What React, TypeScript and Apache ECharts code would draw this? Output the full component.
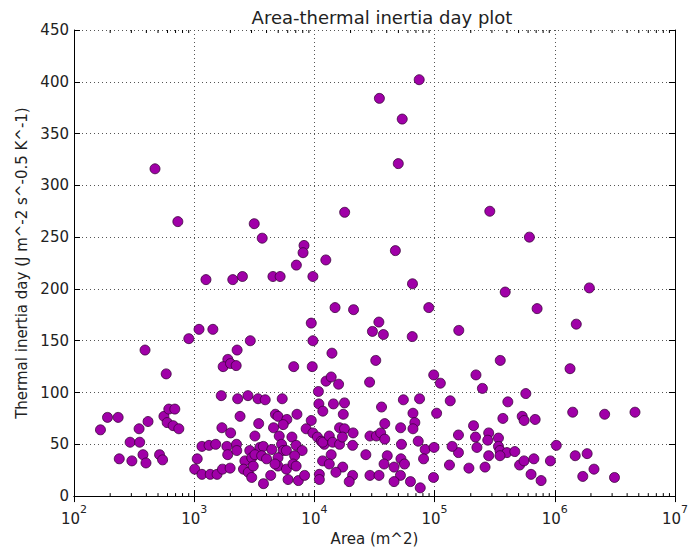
import React, { useEffect, useRef } from "react";
import * as echarts from "echarts";

const chartTitle = "Area-thermal inertia day plot";
const xAxisName = "Area (m^2)";
const yAxisName = "Thermal inertia day (J m^-2 s^-0.5 K^-1)";

const areaValues = [
  190, 233, 166, 413, 348, 560, 615, 690, 596, 668, 745, 293, 352, 238, 303, 375, 397, 515, 546, 390, 585, 902, 472, 731,
  3160, 3680, 8200, 8050, 7080, 1253, 2094, 2520, 4520, 5190, 9720, 9420, 9720, 9600, 6730, 1097, 1430, 2930, 2276, 1905,
  1742, 2005, 2235, 1680, 2300, 2800, 3400, 3900, 5400, 2408, 3440, 4740, 4980, 5900, 5500, 7160, 4570, 5100, 9420, 8540,
  1700, 2010, 3200, 6500, 1160, 1330, 1510, 1870, 2250, 2900, 3520, 3760, 4420, 5330, 5500, 5850, 7050, 7910, 6850, 1900,
  2260, 2640, 3010, 3200, 3640, 4000, 4980, 1060, 1010, 1160, 1360, 1550, 1720, 1990, 2570, 2820, 3100, 3010, 3770, 4330,
  4980, 4700, 5850, 6040, 6640, 7360, 8290, 7050, 9720, 10600, 11400, 12100, 11000, 11000,
  12450, 17860, 34750, 74500, 53800, 49900, 47200, 65500, 89500, 14860, 21180, 34400, 30400, 37500, 65200, 32400, 28800,
  14000, 12500, 13800, 15900, 10800, 10900, 11750, 14400, 17800, 17400, 36200, 55000, 75000, 66100, 68500, 66100, 73100,
  38500, 52200, 16200, 17800, 21000, 11750, 13300, 14200, 16200, 17100, 20800, 29000, 32800, 35600, 38500, 53000, 83500,
  99000, 26800, 40400, 38000, 52500, 56200, 46000, 81000, 13800, 11700, 13300, 17200, 15100, 20800, 19500, 29000, 34500,
  52000, 46000, 63000, 76000, 98000,
  288000, 615000, 159000, 387000, 713000, 352000, 98400, 111700, 221000, 250000, 574000, 407000, 135000, 104000, 370000,
  536000, 556000, 687000, 211000, 158000, 219000, 282000, 277000, 340000, 340000, 350000, 400000, 465000, 350000, 282000,
  225000, 158000, 140000, 133000, 193000, 263000, 510000, 555000, 670000, 635000, 770000, 920000,
  1030000, 1480000, 1860000, 2120000, 1710000, 3140000, 1410000, 2600000, 4650000, 1940000, 1510000, 1340000,
];

const inertiaValues = [
  76, 76, 64, 72, 65, 77, 84, 84, 71, 68, 65, 52, 52, 36, 34, 40, 32, 40, 35, 141, 118, 152, 316, 265,
  263, 249, 242, 235, 223, 209, 209, 212, 212, 212, 212, 167, 150, 125, 125, 161, 161, 150, 141, 132,
  125, 128, 126, 97, 94, 97, 94, 93, 94, 77, 70, 79, 77, 74, 69, 79, 66, 58, 73, 65,
  66, 61, 58, 57, 48, 49, 50, 48, 50, 44, 47, 48, 45, 50, 44, 44, 49, 44, 39, 40,
  44, 34, 37, 40, 39, 36, 37, 36, 26, 21, 21, 21, 26, 27, 26, 23, 29, 18, 12, 20,
  29, 31, 26, 16, 31, 15, 20, 29, 61, 57, 53, 50, 21, 16,
  228, 274, 384, 402, 364, 321, 237, 205, 182, 182, 180, 168, 159, 156, 154, 131, 110,
  138, 111, 115, 108, 101, 89, 82, 89, 90, 79, 86, 93, 94, 80, 71, 65, 53,
  70, 66, 66, 65, 61, 52, 58, 52, 50, 57, 49, 58, 58, 61, 55, 50, 45,
  47, 40, 39, 31, 36, 31, 28, 36, 40, 34, 31, 28, 23, 20, 14, 20, 20,
  20, 14, 14, 8, 18,
  275, 250, 160, 197, 181, 131, 117, 109, 117, 104, 99, 91, 92, 80, 75,
  77, 73, 74, 68, 59, 57, 61, 54, 56, 48, 44, 42, 43, 39, 39,
  47, 42, 48, 30, 27, 28, 30, 34, 36, 21, 15, 34,
  49, 39, 41, 26, 19, 18, 81, 79, 81, 201, 166, 123,
];

const minorTickValues = [
  200, 300, 400, 500, 600, 700, 800, 900,
  2000, 3000, 4000, 5000, 6000, 7000, 8000, 9000,
  20000, 30000, 40000, 50000, 60000, 70000, 80000, 90000,
  200000, 300000, 400000, 500000, 600000, 700000, 800000, 900000,
  2000000, 3000000, 4000000, 5000000, 6000000, 7000000, 8000000, 9000000,
];

const X_MIN = 100;
const X_MAX = 10000000;
const Y_MIN = 0;
const Y_MAX = 450;
const Y_INTERVAL = 50;

const FONT = "DejaVu Sans";
const TEXT_COLOR = "#222";

export default function App() {
  const ref = useRef<HTMLDivElement>(null);

  useEffect(() => {
    document.body.style.margin = "0";
    if (!ref.current) return;
    const chart = echarts.init(ref.current, undefined, { renderer: "svg" });

    const points = areaValues.map((a, i) => [a, inertiaValues[i]]);

    const gridLine = { show: true, lineStyle: { color: "#555", type: [1, 3] as any, width: 1 } };
    const frameLine = { show: true, lineStyle: { color: "#000", width: 1 } };
    const tick = { show: true, inside: true, length: 6, lineStyle: { color: "#000", width: 1 } };

    chart.setOption({
      animation: false,
      backgroundColor: "#fff",
      textStyle: { fontFamily: FONT },
      title: {
        text: chartTitle,
        left: 377,
        top: 3,
        textAlign: "center",
        textStyle: { fontFamily: FONT, fontSize: 18, fontWeight: "normal", color: TEXT_COLOR },
      },
      grid: { left: 74, right: 12, top: 30, bottom: 54 },
      xAxis: [
        {
          type: "log",
          logBase: 10,
          min: X_MIN,
          max: X_MAX,
          splitNumber: 5,
          position: "bottom",
          name: xAxisName,
          nameLocation: "middle",
          nameGap: 29,
          nameTextStyle: { fontFamily: FONT, fontSize: 15, color: TEXT_COLOR },
          axisLine: frameLine,
          axisTick: tick,
          splitLine: gridLine,
          axisLabel: {
            margin: 8,
            formatter: (v: number) => `{b|10}{s|${Math.round(Math.log10(v))}}`,
            rich: {
              b: { fontFamily: FONT, fontSize: 15, color: TEXT_COLOR, lineHeight: 22, verticalAlign: "bottom" },
              s: { fontFamily: FONT, fontSize: 11, color: TEXT_COLOR, lineHeight: 22, verticalAlign: "top" },
            },
          },
        },
        {
          type: "log",
          logBase: 10,
          min: X_MIN,
          max: X_MAX,
          splitNumber: 5,
          position: "top",
          axisLine: frameLine,
          axisTick: tick,
          splitLine: { show: false },
          axisLabel: { show: false },
        },
      ],
      yAxis: [
        {
          type: "value",
          min: Y_MIN,
          max: Y_MAX,
          interval: Y_INTERVAL,
          position: "left",
          name: yAxisName,
          nameLocation: "middle",
          nameGap: 42,
          nameTextStyle: { fontFamily: FONT, fontSize: 15, color: TEXT_COLOR },
          axisLine: frameLine,
          axisTick: tick,
          splitLine: gridLine,
          axisLabel: { fontFamily: FONT, fontSize: 15, color: TEXT_COLOR, margin: 5 },
        },
        {
          type: "value",
          min: Y_MIN,
          max: Y_MAX,
          interval: Y_INTERVAL,
          position: "right",
          axisLine: frameLine,
          axisTick: tick,
          splitLine: { show: false },
          axisLabel: { show: false },
        },
      ],
      series: [
        {
          type: "custom",
          xAxisIndex: 0,
          yAxisIndex: 0,
          silent: true,
          clip: false,
          z: 1,
          data: minorTickValues.map((v) => [v, Y_MIN]),
          renderItem: (params: any, api: any) => {
            const v = api.value(0);
            const b = api.coord([v, Y_MIN]);
            const t = api.coord([v, Y_MAX]);
            return {
              type: "group",
              children: [
                { type: "line", shape: { x1: b[0], y1: b[1], x2: b[0], y2: b[1] - 3 }, style: { stroke: "#000", lineWidth: 1 } },
                { type: "line", shape: { x1: t[0], y1: t[1], x2: t[0], y2: t[1] + 3 }, style: { stroke: "#000", lineWidth: 1 } },
              ],
            };
          },
        },
        {
          type: "scatter",
          xAxisIndex: 0,
          yAxisIndex: 0,
          symbol: "circle",
          symbolSize: 10,
          z: 3,
          itemStyle: { color: "#a000a8", borderColor: "#3a003a", borderWidth: 0.8, opacity: 1 },
          data: points,
        },
      ],
    });

    return () => chart.dispose();
  }, []);

  return <div ref={ref} style={{ width: 691, height: 551 }} />;
}
